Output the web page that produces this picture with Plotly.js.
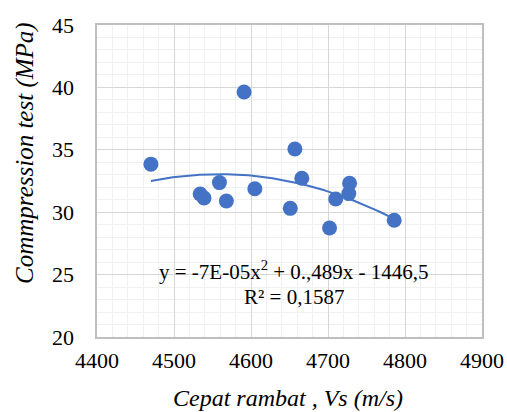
<!DOCTYPE html>
<html>
<head>
<meta charset="utf-8">
<script src="https://cdn.plot.ly/plotly-3.0.1.min.js"></script>
<style>html,body{margin:0;padding:0;background:#fff;}#chart{width:507px;height:412px;}</style>
</head>
<body>
<div id="chart"></div>
<script>
// Data
const vs = [4470, 4591, 4657, 4534, 4539, 4559, 4568, 4605, 4651, 4666, 4702, 4710, 4727, 4728, 4786];
const compression = [33.85, 39.63, 35.06, 31.46, 31.14, 32.37, 30.90, 31.88, 30.31, 32.72, 28.73, 31.06, 31.49, 32.32, 29.35];
const xTickVals = [4400, 4500, 4600, 4700, 4800, 4900];
const yTickVals = [20, 25, 30, 35, 40, 45];
const xTitle = "Cepat rambat , Vs (m/s)";
const yTitle = "Commpression test (MPa)";
const eqLine1 = "y = -7E-05x<sup>2</sup> + 0.,489x - 1446,5";
const eqLine2 = "R² = 0,1587";

// Quadratic least-squares trendline from the data
function polyfit2(xs, ys) {
  const n = xs.length;
  const m = xs.reduce((a, b) => a + b, 0) / n;
  let S = [0,0,0,0,0], T = [0,0,0];
  for (let i = 0; i < n; i++) {
    const u = xs[i] - m;
    for (let k = 0; k < 5; k++) S[k] += Math.pow(u, k);
    for (let k = 0; k < 3; k++) T[k] += ys[i] * Math.pow(u, k);
  }
  const A = [[S[0],S[1],S[2],T[0]],[S[1],S[2],S[3],T[1]],[S[2],S[3],S[4],T[2]]];
  for (let c = 0; c < 3; c++) {
    for (let r = c + 1; r < 3; r++) {
      const f = A[r][c] / A[c][c];
      for (let k = c; k < 4; k++) A[r][k] -= f * A[c][k];
    }
  }
  const b = [0,0,0];
  for (let r = 2; r >= 0; r--) {
    let s = A[r][3];
    for (let k = r + 1; k < 3; k++) s -= A[r][k] * b[k];
    b[r] = s / A[r][r];
  }
  return x => b[0] + b[1] * (x - m) + b[2] * (x - m) * (x - m);
}
const fit = polyfit2(vs, compression);
const xmin = Math.min(...vs), xmax = Math.max(...vs);
const trendX = [], trendY = [];
for (let i = 0; i <= 100; i++) {
  const x = xmin + (xmax - xmin) * i / 100;
  trendX.push(x); trendY.push(fit(x));
}

const serif = "Liberation Serif";
const blue = "#4472C4";
const tickFont = {family: serif, size: 22, color: "#000"};

const traces = [
  {x: trendX, y: trendY, mode: "lines", line: {color: blue, width: 2}, hoverinfo: "skip", showlegend: false},
  {x: vs, y: compression, mode: "markers", marker: {color: blue, size: 15, line: {width: 0}}, showlegend: false}
];

// Tick labels as annotations placed through the axes' own scales
const tickAnns = [];
xTickVals.forEach(v => tickAnns.push({xref: "x", yref: "paper", x: v, y: -0.074, text: String(v),
  showarrow: false, font: tickFont, xanchor: "center", yanchor: "middle"}));
yTickVals.forEach(v => tickAnns.push({xref: "paper", yref: "y", x: -0.055, y: v, text: String(v),
  showarrow: false, font: tickFont, xanchor: "right", yanchor: "middle"}));

const layout = {
  width: 507, height: 412,
  margin: {l: 97, r: 25, t: 25, b: 75},
  paper_bgcolor: "#fff", plot_bgcolor: "#fff",
  font: {family: serif, color: "#000", size: 22},
  xaxis: {
    range: [4400, 4900], tickmode: "linear", tick0: 4400, dtick: 100,
    showgrid: true, gridcolor: "#d6d6d6", gridwidth: 1,
    minor: {dtick: 20, showgrid: true, gridcolor: "#f0f0f0", gridwidth: 1},
    zeroline: false, showline: true, linecolor: "#bfbfbf", linewidth: 2, mirror: true,
    ticks: "", showticklabels: false
  },
  yaxis: {
    range: [20, 45], tickmode: "linear", tick0: 20, dtick: 5,
    showgrid: true, gridcolor: "#d6d6d6", gridwidth: 1,
    minor: {dtick: 1, showgrid: true, gridcolor: "#f0f0f0", gridwidth: 1},
    zeroline: false, showline: true, linecolor: "#bfbfbf", linewidth: 2, mirror: true,
    ticks: "", showticklabels: false
  },
  annotations: tickAnns.concat([
    {xref: "paper", yref: "paper", x: 0.495, y: -0.197, text: xTitle, showarrow: false,
     font: {family: serif, size: 24, color: "#000", style: "italic"}, xanchor: "center", yanchor: "middle"},
    {xref: "paper", yref: "paper", x: -0.187, y: 0.59, text: yTitle, showarrow: false, textangle: -90,
     font: {family: serif, size: 25, color: "#000", style: "italic"}, xanchor: "center", yanchor: "middle"},
    {xref: "paper", yref: "paper", x: 0.511, y: 0.212, text: eqLine1, showarrow: false,
     font: {family: serif, size: 21, color: "#000"}, xanchor: "center", yanchor: "middle"},
    {xref: "paper", yref: "paper", x: 0.511, y: 0.128, text: eqLine2, showarrow: false,
     font: {family: serif, size: 21, color: "#000"}, xanchor: "center", yanchor: "middle"}
  ])
};

Plotly.newPlot("chart", traces, layout, {staticPlot: true, displayModeBar: false});
</script>
</body>
</html>
